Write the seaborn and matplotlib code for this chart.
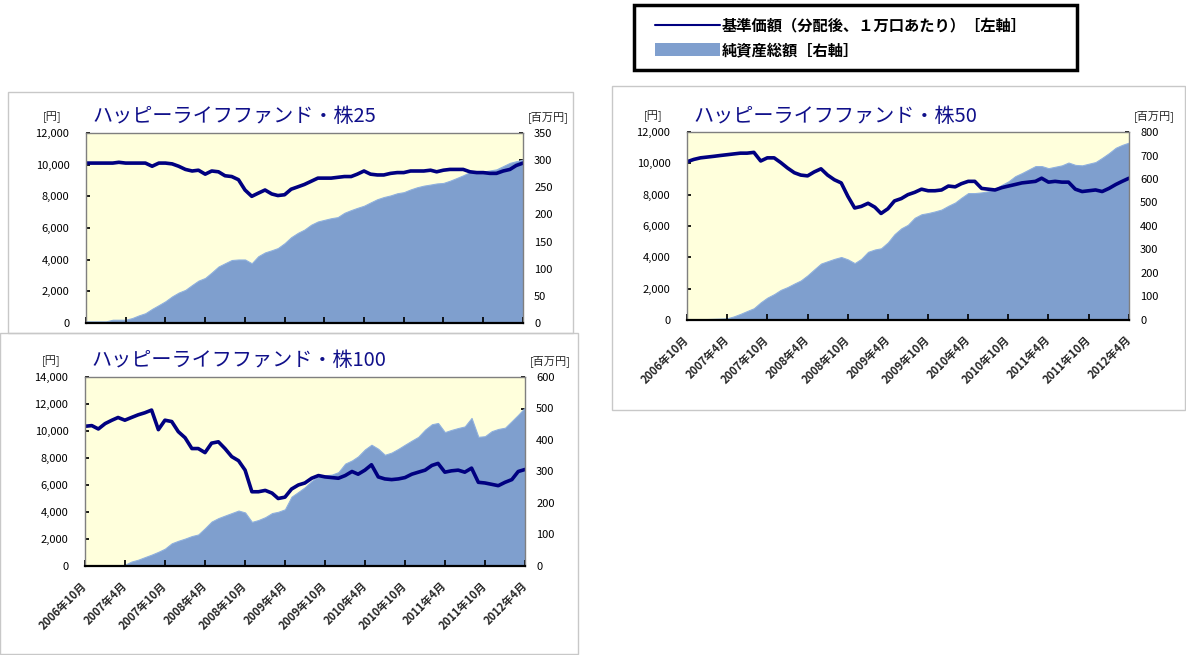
import numpy as np
import pandas as pd
import matplotlib
matplotlib.use('Agg')
import matplotlib.pyplot as plt
import seaborn as sns
from matplotlib.patches import Rectangle
from matplotlib.lines import Line2D
from matplotlib.ticker import FuncFormatter

sns.set_theme(style='white')
plt.rcParams['font.family'] = ['Noto Sans CJK JP', 'DejaVu Sans']

# monthly points, 2006/10 .. 2012/4
months = pd.date_range('2006-10-01', '2012-04-01', freq='MS')
tick_labels = ['2006年10月', '2007年4月', '2007年10月', '2008年4月', '2008年10月', '2009年4月',
               '2009年10月', '2010年4月', '2010年10月', '2011年4月', '2011年10月', '2012年4月']

# 株25
nav_25 = [10100, 10100, 10100, 10100, 10100, 10150, 10100, 10100, 10100, 10100,
          9900, 10100, 10100, 10050, 9900, 9700, 9600, 9650, 9400, 9600,
          9550, 9300, 9250, 9050, 8400, 8000, 8200, 8400, 8150, 8050,
          8100, 8450, 8600, 8750, 8950, 9150, 9150, 9150, 9200, 9250,
          9250, 9400, 9600, 9400, 9350, 9350, 9450, 9500, 9500, 9600,
          9600, 9600, 9650, 9550, 9650, 9700, 9700, 9700, 9550, 9500,
          9500, 9450, 9450, 9600, 9700, 9950, 10100]
aum_25 = [3, 3, 3, 3, 6, 6, 6, 9, 14, 18, 26, 33, 40, 49, 56, 61, 70, 78, 83, 93,
          104, 110, 116, 117, 117, 110, 123, 130, 134, 138, 147, 158, 166, 172, 181, 187,
          190, 193, 195, 203, 208, 212, 216, 222, 228, 232, 235, 239, 241, 246,
          250, 253, 255, 257, 258, 262, 267, 272, 278, 277, 279, 281, 283, 289, 295, 298, 301]

# 株100
nav_100 = [10350, 10400, 10150, 10550, 10800, 11000, 10800, 11000, 11200, 11350,
           11550, 10100, 10800, 10700, 9950, 9500, 8700, 8700, 8400, 9100,
           9200, 8700, 8100, 7800, 7100, 5500, 5500, 5600, 5400, 5000,
           5100, 5700, 6000, 6150, 6500, 6700, 6600, 6550, 6500, 6700,
           7000, 6800, 7100, 7500, 6600, 6450, 6400, 6450, 6550, 6800,
           6950, 7100, 7450, 7600, 6950, 7050, 7100, 6950, 7250, 6200,
           6150, 6050, 5950, 6200, 6400, 7000, 7150]
aum_100 = [0, 0, 0, 0, 0, 0, 4, 14, 20, 28, 36, 45, 55, 72, 80, 87, 95, 100, 120, 141,
           152, 160, 168, 176, 170, 140, 146, 155, 168, 172, 180, 220, 235, 250, 270, 285,
           288, 290, 298, 325, 335, 348, 370, 385, 372, 353, 360, 372, 385, 398,
           410, 433, 450, 454, 425, 432, 438, 443, 470, 410, 412, 428, 435, 439, 460, 480, 503]

# 株50
nav_50 = [10100, 10250, 10350, 10400, 10450, 10500, 10550, 10600, 10650, 10650,
          10700, 10150, 10350, 10350, 10050, 9700, 9400, 9250, 9200, 9450,
          9650, 9250, 8950, 8750, 7900, 7150, 7250, 7450, 7200, 6800,
          7100, 7600, 7750, 8000, 8150, 8350, 8250, 8250, 8300, 8550,
          8500, 8700, 8850, 8850, 8400, 8350, 8300, 8450, 8550, 8650,
          8750, 8800, 8850, 9050, 8800, 8850, 8800, 8800, 8350, 8200,
          8250, 8300, 8200, 8400, 8650, 8850, 9050]
aum_50 = [0, 0, 0, 4, 5, 6, 7, 15, 26, 38, 50, 75, 95, 110, 128, 140, 155, 168, 190, 215,
          240, 250, 260, 268, 258, 242, 260, 290, 300, 305, 330, 365, 390, 405, 435, 450,
          455, 462, 470, 486, 500, 520, 540, 540, 543, 548, 558, 575, 590, 612,
          625, 640, 655, 655, 646, 652, 658, 670, 660, 658, 665, 672, 690, 710, 733, 745, 755]

W, H = 1186, 655
NAVY = '#000080'
FILL = '#7F9FCE'
YELLOW = '#FFFFDC'

fig = plt.figure(figsize=(W / 100, H / 100), dpi=100)


def fx(px):
    return px / W


def fy(py):
    return 1 - py / H


def box(x0, y0, x1, y1, **kw):
    fig.patches.append(Rectangle((fx(x0), fy(y1)), (x1 - x0) / W, (y1 - y0) / H,
                                 transform=fig.transFigure, **kw))


def panel(plot_px, title, nav, aum, left_max, right_max, right_step, show_x):
    l, t, r, b = plot_px
    ax = fig.add_axes([fx(l), fy(b), (r - l) / W, (b - t) / H])
    ax2 = ax.twinx()
    ax2.patch.set_visible(True)
    ax2.set_facecolor(YELLOW)
    ax2.fill_between(months, aum, color=FILL, lw=0.8, edgecolor='#8FB0DE')
    ax.set_zorder(ax2.get_zorder() + 1)
    ax.patch.set_visible(False)

    df = pd.DataFrame({'month': months, 'nav': nav})
    sns.lineplot(data=df, x='month', y='nav', ax=ax, color=NAVY, lw=2.6)

    ax.set_xlim(months[0], months[-1])
    ax.set_ylim(0, left_max)
    ax2.set_ylim(0, right_max)
    ax.set_yticks(range(0, left_max + 1, 2000))
    ax.yaxis.set_major_formatter(FuncFormatter(lambda v, p: f'{int(v):,}'))
    ax2.set_yticks(range(0, right_max + 1, right_step))
    ax.set_xticks(months[::6])
    ax.set_xlabel('')
    ax.set_ylabel('')

    ax.tick_params(axis='y', left=True, direction='in', length=3, pad=12,
                   labelsize=8, colors='black')
    ax2.tick_params(axis='y', right=True, direction='in', length=3, pad=8,
                    labelsize=8, colors='black')
    ax.tick_params(axis='x', bottom=True, direction='in', length=4, color='black')
    if show_x:
        ax.set_xticklabels(tick_labels, rotation=45, ha='right', va='center',
                           rotation_mode='anchor', fontsize=8, fontweight='bold')
        ax.tick_params(axis='x', pad=13)
    else:
        ax.set_xticklabels([])

    for s in ax.spines.values():
        s.set_color('#7F7F7F')
        s.set_linewidth(1)
    ax.spines['bottom'].set_color('black')
    ax.spines['bottom'].set_linewidth(1.6)
    for s in ax2.spines.values():
        s.set_visible(False)

    fig.text(fx(l - 34), fy(t - 16), '[円]', ha='center', va='center', fontsize=8)
    fig.text(fx(r + 25), fy(t - 16), '[百万円]', ha='center', va='center', fontsize=8)
    fig.text(fx(l + 6), fy(t - 16), title, ha='left', va='center', fontsize=14.5,
             color='#10108A')
    return ax


# panel frames
box(8, 92, 573, 333, fill=False, edgecolor='#C8C8C8', lw=1, zorder=-1)
box(0, 333, 578, 654, fill=False, edgecolor='#C8C8C8', lw=1, zorder=-1)
box(612, 86, 1185, 410, fill=False, edgecolor='#C8C8C8', lw=1, zorder=-1)

panel((86, 133, 523, 323), 'ハッピーライフファンド・株25', nav_25, aum_25, 12000, 350, 50, False)
panel((85, 377, 525, 566), 'ハッピーライフファンド・株100', nav_100, aum_100, 14000, 600, 100, True)
panel((687, 132, 1129, 320), 'ハッピーライフファンド・株50', nav_50, aum_50, 12000, 800, 100, True)

# legend
box(634, 5, 1077, 70, facecolor='white', edgecolor='black', lw=2.5, zorder=2)
fig.lines.append(Line2D([fx(655), fx(720)], [fy(25), fy(25)], transform=fig.transFigure,
                        color=NAVY, lw=1.5, zorder=3))
box(655, 43, 720, 56, facecolor=FILL, edgecolor='none', zorder=3)
fig.text(fx(722), fy(25), '基準価額（分配後、１万口あたり）［左軸］', ha='left', va='center',
         fontsize=11, color='black', fontweight='bold', zorder=4)
fig.text(fx(722), fy(50), '純資産総額［右軸］', ha='left', va='center',
         fontsize=11, color='black', fontweight='bold', zorder=4)

fig.savefig('out.png', dpi=100)
